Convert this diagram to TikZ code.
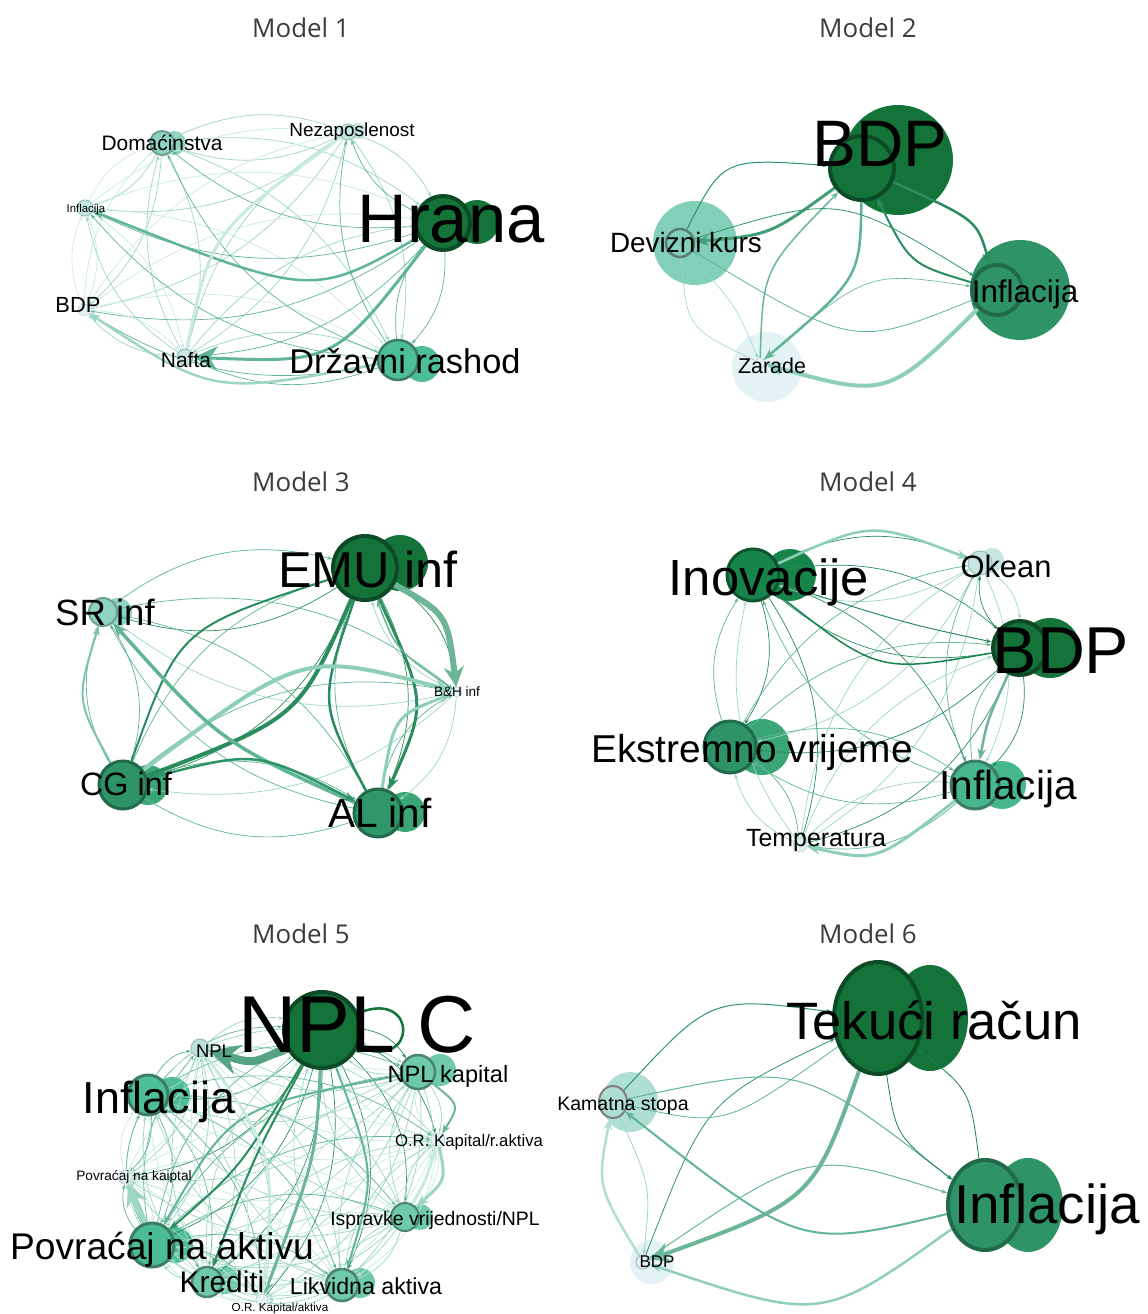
\documentclass[tikz,border=0pt]{standalone}
\usepackage{fontspec}
\newfontfamily\arl{Liberation Sans}
\newfontfamily\opn{Open Sans}
\usetikzlibrary{shapes.geometric,arrows.meta,backgrounds}
\definecolor{nDark}{HTML}{137339}
\definecolor{nRing}{HTML}{0C4B26}
\definecolor{nGreen}{HTML}{17844B}
\definecolor{nMid}{HTML}{2E9468}
\definecolor{nMidRing}{HTML}{216B4B}
\definecolor{nSea}{HTML}{3AA677}
\definecolor{nTeal}{HTML}{4DBF98}
\definecolor{nTealRing}{HTML}{3B7D66}
\definecolor{nAqua}{HTML}{6FC9AD}
\definecolor{nAquaRing}{HTML}{4A8570}
\definecolor{nMint}{HTML}{8FD3C2}
\definecolor{nMintRing}{HTML}{6E9F93}
\definecolor{nPale}{HTML}{C5E6E1}
\definecolor{nPaleRing}{HTML}{9BBFBA}
\definecolor{nIce}{HTML}{E3F3F5}
\definecolor{nIceRing}{HTML}{B9CFD2}
\definecolor{eD}{HTML}{2B8C5E}
\definecolor{eM}{HTML}{5FB594}
\definecolor{eL}{HTML}{9ED6C5}
\definecolor{eP}{HTML}{C9EAE2}
\definecolor{eThk}{HTML}{6DB597}
\definecolor{eSoft}{HTML}{8DCFB8}
\definecolor{titleGrey}{HTML}{3C3C3C}
\newcommand{\fs}[1]{\fontsize{#1}{#1}\selectfont}

\begin{document}
\begin{tikzpicture}[x=1bp,y=-1bp,>={Stealth[scale=0.8]},
  vtx/.style={circle,inner sep=0pt,line width=2bp},
  lbl/.style={inner sep=0pt,anchor=base,text=black},
  ttl/.style={inner sep=0pt,anchor=base,text=titleGrey,font={\opn\fs{26}}},
  lnk/.style={->,line width=0.7bp},
  bigtip/.style={-{Stealth[length=#1,width=#1]}}]

\useasboundingbox (0,0) rectangle (1147,1314);
\begin{scope}[on background layer]
\fill[white] (0,0) rectangle (1147,1314);
\end{scope}

\node[ttl] (t1) at (301,38) {Model 1};
\node[ttl] (t2) at (868,38) {Model 2};
\node[ttl] (t3) at (301,491) {Model 3};
\node[ttl] (t4) at (868,491) {Model 4};
\node[ttl] (t5) at (301,943) {Model 5};
\node[ttl] (t6) at (868,943) {Model 6};

\node[vtx,minimum size=24bp,fill=nMint,draw=nMintRing] (a-dom) at (162,143) {};
\node[vtx,minimum size=16bp,fill=nPale,draw=nPaleRing,line width=1bp] (a-nez) at (348,132) {};
\node[vtx,minimum size=16bp,fill=nPale,draw=nPaleRing,line width=1bp] (a-inf) at (85,208) {};
\node[vtx,minimum size=54bp,fill=nDark,draw=nRing,line width=4bp] (a-hra) at (443,223) {};
\node[vtx,minimum size=12bp,fill=nIce,draw=nIceRing,line width=0.5bp] (a-bdp) at (84,310) {};
\node[vtx,minimum size=16bp,fill=nPale,draw=nPaleRing,line width=1bp] (a-naf) at (185,357) {};
\node[vtx,minimum size=40bp,fill=nTeal,draw=nTealRing,line width=2.5bp] (a-drz) at (398,360) {};

\begin{scope}[on background layer]
\fill[nMint] (174,143) circle (12bp);
\fill[nPale] (358,131) circle (8bp);
\fill[nDark] (477,222) circle (22bp);
\fill[nTeal] (422,364) circle (18bp);
\foreach \a/\ca [count=\i] in {dom/eL,nez/eL,inf/eP,hra/eM,bdp/eP,naf/eL,drz/eM} {
  \foreach \b [count=\j] in {dom,nez,inf,hra,bdp,naf,drz} {
    \ifnum\i=\j\else\draw[lnk,\ca] (a-\a) to[bend left=22] (a-\b);\fi
  }
}
\draw[->,line width=2.5bp,eM] (a-hra) .. controls (312,298) .. (a-inf);
\draw[bigtip=24bp,line width=3bp,eM] (a-hra) .. controls (335,363) .. (a-naf);
\draw[line width=3bp,eP] (a-nez) .. controls (211,232) .. (a-naf);
\draw[->,line width=2.5bp,eL] (a-drz) .. controls (213,395) .. (a-bdp);
\end{scope}

\node[lbl,font={\arl\fs{21}}] (a-dom-t) at (162,150.5) {Domaćinstva};
\node[lbl,font={\arl\fs{19}}] (a-nez-t) at (352,136.8) {Nezaposlenost};
\node[lbl,font={\arl\fs{11.4}}] (a-inf-t) at (86,212.1) {Inflacija};
\node[lbl,font={\arl\fs{69}}] (a-hra-t) at (451,242.7) {Hrana};
\node[lbl,font={\arl\fs{22}}] (a-bdp-t) at (78,312.9) {BDP};
\node[lbl,font={\arl\fs{21}}] (a-naf-t) at (186,367.5) {Nafta};
\node[lbl,font={\arl\fs{34.5}}] (a-drz-t) at (405,373.4) {Državni rashod};

\node[vtx,minimum size=64bp,fill=nDark,draw=nRing,line width=4bp] (b-bdp) at (862,168) {};
\node[vtx,minimum size=28bp,fill=nMint!80!nTeal,draw=nMintRing!80!black,line width=2.5bp] (b-dev) at (680,243) {};
\node[vtx,minimum size=50bp,fill=nMid,draw=nMidRing,line width=4bp] (b-inf) at (997,290) {};
\node[vtx,minimum size=10bp,fill=nIce,draw=nIceRing,line width=0.5bp] (b-zar) at (760,363) {};

\begin{scope}[on background layer]
\fill[nDark] (898,160) circle (55bp);
\fill[nMint!80!nTeal] (695,243) circle (42bp);
\fill[nMid] (1020,290) circle (50bp);
\fill[nIce] (767,367) circle (35bp);
\draw[->,line width=3bp,nMid!90!white] (b-bdp) .. controls (770,235) .. (b-dev);
\draw[->,line width=1bp,nMid] (b-dev) .. controls (723,158) .. (b-bdp);
\draw[->,line width=2.5bp,eD] (b-bdp) .. controls (977,220) .. (b-inf);
\draw[->,line width=2bp,eD] (b-inf) .. controls (910,264) .. (b-bdp);
\draw[->,line width=1.5bp,eThk] (b-zar) .. controls (763,269) .. (b-bdp);
\draw[->,line width=2.5bp,eM] (b-bdp) .. controls (860,278) .. (b-zar);
\draw[->,line width=4bp,eSoft] (b-inf) .. controls (887,398) .. (b-zar);
\draw[->,line width=0.8bp,nMid] (b-dev) .. controls (840,194) .. (b-inf);
\draw[->,line width=0.8bp,eM] (b-inf) .. controls (854,348) .. (b-dev);
\draw[->,line width=0.6bp,eM] (b-zar) .. controls (867,271) .. (b-inf);
\draw[->,line width=0.6bp,eL] (b-dev) .. controls (736,306) .. (b-zar);
\draw[->,line width=0.6bp,eL] (b-zar) .. controls (687,328) .. (b-dev);
\end{scope}

\node[lbl,font={\arl\fs{66}}] (b-bdp-t) at (880,166.6) {BDP};
\node[lbl,font={\arl\fs{28}}] (b-dev-t) at (686,253) {Devizni kurs};
\node[lbl,font={\arl\fs{31.5}}] (b-inf-t) at (1025,302.3) {Inflacija};
\node[lbl,font={\arl\fs{21.5}}] (b-zar-t) at (772,373.7) {Zarade};

\node[vtx,minimum size=64bp,fill=nDark,draw=nRing,line width=4bp] (c-emu) at (365,568) {};
\node[vtx,minimum size=28bp,fill=nMint,draw=nMintRing] (c-sr) at (103,612) {};
\node[vtx,minimum size=10bp,fill=nIce,draw=nIceRing,line width=0.5bp] (c-bh) at (457,692) {};
\node[vtx,minimum size=48bp,fill=nMid,draw=nMidRing,line width=3bp] (c-cg) at (123,785) {};
\node[vtx,minimum size=48bp,fill=nMid!85!nSea,draw=nMidRing,line width=3bp] (c-al) at (378,813) {};

\begin{scope}[on background layer]
\fill[nDark] (400,563) circle (28bp);
\fill[nMint] (118,612) circle (14bp);
\fill[nSea] (148,785) circle (20bp);
\fill[nSea] (405,812) circle (20bp);
\foreach \a/\ca [count=\i] in {emu/eD,sr/eM,bh/eL,cg/eM,al/eM} {
  \foreach \b [count=\j] in {emu,sr,bh,cg,al} {
    \ifnum\i=\j\else\draw[lnk,\ca] (c-\a) to[bend left=25] (c-\b);\fi
  }
}
\draw[bigtip=20bp,line width=6bp,eThk] (c-emu) .. controls (447,614) .. (c-bh);
\draw[line width=4bp,eD] (c-cg) .. controls (299,718) .. (c-emu);
\draw[line width=2bp,eD] (c-cg) .. controls (179,628) .. (c-emu);
\draw[->,line width=3bp,eD] (c-emu) .. controls (427,703) .. (c-al);
\draw[line width=2.5bp,eD] (c-al) .. controls (319,703) .. (c-emu);
\draw[->,line width=4bp,eSoft] (c-cg) .. controls (303,651) .. (c-bh);
\draw[->,line width=3bp,eSoft] (c-al) .. controls (394,716) .. (c-bh);
\draw[->,line width=3.5bp,eM] (c-al) .. controls (220,742) .. (c-sr);
\draw[->,line width=2.5bp,nMid] (c-cg) .. controls (256,750) .. (c-al);
\draw[->,line width=2bp,eM!80!white] (c-cg) .. controls (76,700) .. (c-sr);
\draw[->,line width=1.5bp,eThk] (c-bh) .. controls (396,650) .. (c-emu);
\end{scope}

\node[lbl,font={\arl\fs{50.6}}] (c-emu-t) at (368,587.1) {EMU inf};
\node[lbl,font={\arl\fs{36.7}}] (c-sr-t) at (105,625.1) {SR inf};
\node[lbl,font={\arl\fs{13.6}}] (c-bh-t) at (457,696.9) {B\&H inf};
\node[lbl,font={\arl\fs{32.5}}] (c-cg-t) at (126,795.6) {CG inf};
\node[lbl,font={\arl\fs{40.7}}] (c-al-t) at (380,827.6) {AL inf};

\node[vtx,minimum size=52bp,fill=nGreen,draw=nRing!80!nGreen,line width=3bp] (d-ino) at (753,575) {};
\node[vtx,minimum size=24bp,fill=nPale,draw=nPaleRing,line width=1bp] (d-oke) at (980,563) {};
\node[vtx,minimum size=54bp,fill=nDark,draw=nRing,line width=4bp] (d-bdp) at (1020,648) {};
\node[vtx,minimum size=52bp,fill=nMid,draw=nMidRing,line width=3bp] (d-ekv) at (730,747) {};
\node[vtx,minimum size=48bp,fill=nTeal!70!nSea,draw=nTealRing,line width=3bp] (d-inf) at (975,785) {};
\node[vtx,minimum size=14bp,fill=nIce,draw=nIceRing,line width=0.5bp] (d-tem) at (800,845) {};

\begin{scope}[on background layer]
\fill[nGreen] (790,575) circle (26bp);
\fill[nPale] (992,560) circle (12bp);
\fill[nDark] (1050,648) circle (30bp);
\fill[nSea] (762,747) circle (28bp);
\fill[nTeal!70!nSea] (1002,785) circle (24bp);
\foreach \a/\ca [count=\i] in {ino/eD,oke/eL,bdp/eD,ekv/eM,inf/eM,tem/eL} {
  \foreach \b [count=\j] in {ino,oke,bdp,ekv,inf,tem} {
    \ifnum\i=\j\else\draw[lnk,\ca] (d-\a) to[bend left=25] (d-\b);\fi
  }
}
\draw[->,line width=2.5bp,eSoft] (d-ino) .. controls (871,521) .. (d-oke);
\draw[->,line width=1.5bp,nGreen] (d-bdp) .. controls (878,673) .. (d-ino);
\draw[->,line width=1bp,eD] (d-ino) .. controls (904,623) .. (d-bdp);
\draw[->,line width=3bp,eSoft] (d-inf) .. controls (877,862) .. (d-tem);
\draw[->,line width=2.5bp,eThk] (d-bdp) .. controls (987,721) .. (d-inf);
\end{scope}

\node[lbl,font={\arl\fs{51}}] (d-ino-t) at (769,595.3) {Inovacije};
\node[lbl,font={\arl\fs{31}}] (d-oke-t) at (1006,577.1) {Okean};
\node[lbl,font={\arl\fs{66.6}}] (d-bdp-t) at (1061,673.8) {BDP};
\node[lbl,font={\arl\fs{39}}] (d-ekv-t) at (752,762) {Ekstremno vrijeme};
\node[lbl,font={\arl\fs{40.7}}] (d-inf-t) at (1008,799.6) {Inflacija};
\node[lbl,font={\arl\fs{25}}] (d-tem-t) at (816,846) {Temperatura};

\node[vtx,minimum size=76bp,fill=nDark,draw=nRing,line width=4bp] (e-npc) at (322,1030) {};
\node[vtx,minimum size=18bp,fill=nPale!80!nMint,draw=nPaleRing,line width=1bp] (e-npl) at (200,1048) {};
\node[vtx,minimum size=40bp,fill=nTeal,draw=nTealRing,line width=3bp] (e-inf) at (148,1095) {};
\node[vtx,minimum size=34bp,fill=nAqua,draw=nAquaRing,line width=2.5bp] (e-npk) at (418,1072) {};
\node[vtx,minimum size=14bp,fill=nIce,draw=nIceRing,line width=0.8bp] (e-ork) at (438,1140) {};
\node[vtx,minimum size=14bp,fill=nIce,draw=nIceRing,line width=0.8bp] (e-pkp) at (125,1177) {};
\node[vtx,minimum size=28bp,fill=nAqua,draw=nAquaRing,line width=2bp] (e-isp) at (405,1217) {};
\node[vtx,minimum size=44bp,fill=nTeal!90!nSea,draw=nTealRing,line width=3bp] (e-pak) at (152,1245) {};
\node[vtx,minimum size=30bp,fill=nAqua,draw=nAquaRing,line width=2.5bp] (e-kre) at (207,1282) {};
\node[vtx,minimum size=12bp,fill=nIce,draw=nIceRing,line width=0.5bp] (e-ora) at (262,1300) {};
\node[vtx,minimum size=32bp,fill=nAqua,draw=nAquaRing,line width=2.5bp] (e-lik) at (342,1285) {};

\begin{scope}[on background layer]
\fill[nTeal] (172,1095) circle (18bp);
\fill[nAqua] (440,1070) circle (16bp);
\fill[nAqua] (420,1217) circle (13bp);
\fill[nTeal] (175,1245) circle (18bp);
\fill[nAqua] (225,1280) circle (14bp);
\fill[nAqua] (360,1283) circle (15bp);
\foreach \a/\ca [count=\i] in {npc/eD,npl/eL,inf/eM,npk/eL,ork/eP,pkp/eP,isp/eL,pak/eM,kre/eL,ora/eP,lik/eL} {
  \foreach \b [count=\j] in {npc,npl,inf,npk,ork,pkp,isp,pak,kre,ora,lik} {
    \ifnum\i=\j\else\draw[lnk,\ca] (e-\a) to[bend left=25] (e-\b);\fi
  }
}
\draw[line width=2.5bp,nDark] (e-npc.25) .. controls +(60,-25) and +(60,25) .. (e-npc.-25);
\draw[bigtip=30bp,line width=8bp,eM!90!black] (e-npc) .. controls (253,1064) .. (e-npl);
\draw[bigtip=22bp,line width=6bp,eL] (e-pak) .. controls (140,1211) .. (e-pkp);
\draw[->,line width=2bp,eD] (e-npc) .. controls (241,1167) .. (e-pak);
\draw[->,line width=2bp,eM] (e-npk) .. controls (232,1107) .. (e-pak);
\draw[->,line width=3bp,eThk] (e-npc) .. controls (316,1158) .. (e-ora);
\draw[->,line width=2bp,eD] (e-npc) .. controls (252,1161) .. (e-kre);
\draw[->,line width=2bp,eM] (e-npc) .. controls (376,1174) .. (e-lik);
\draw[->,line width=2.5bp,eP] (e-npl) .. controls (276,1155) .. (e-ora);
\draw[->,line width=3bp,eL] (e-ork) .. controls (446,1180) .. (e-isp);
\draw[->,line width=3bp,eP] (e-isp) .. controls (426,1180) .. (e-ork);
\draw[->,line width=2bp,eThk] (e-npk) .. controls (460,1105) .. (e-ork);
\end{scope}

\node[lbl,font={\arl\fs{81}}] (e-npc-t) at (357,1052) {NPL C};
\node[lbl,font={\arl\fs{18.5}}] (e-npl-t) at (214,1057.6) {NPL};
\node[lbl,font={\arl\fs{45}}] (e-inf-t) at (159,1113.1) {Inflacija};
\node[lbl,font={\arl\fs{23.7}}] (e-npk-t) at (448,1082.5) {NPL kapital};
\node[lbl,font={\arl\fs{16.8}}] (e-ork-t) at (469,1146) {O.R. Kapital/r.aktiva};
\node[lbl,font={\arl\fs{13.7}}] (e-pkp-t) at (134,1180.9) {Povraćaj na kaiptal};
\node[lbl,font={\arl\fs{19.5}}] (e-isp-t) at (435,1225) {Ispravke vrijednosti/NPL};
\node[lbl,font={\arl\fs{37.3}}] (e-pak-t) at (162,1259.4) {Povraćaj na aktivu};
\node[lbl,font={\arl\fs{30}}] (e-kre-t) at (222,1292.7) {Krediti};
\node[lbl,font={\arl\fs{23.3}}] (e-lik-t) at (366,1294.3) {Likvidna aktiva};
\node[lbl,font={\arl\fs{11.7}}] (e-ora-t) at (280,1311.2) {O.R. Kapital/aktiva};

\node[vtx,ellipse,minimum width=88bp,minimum height=112bp,fill=nDark,draw=nRing,line width=4bp] (f-tek) at (878,1018) {};
\node[vtx,ellipse,minimum width=28bp,minimum height=32bp,fill=nPale!60!nMint,draw=gray,line width=2bp] (f-kam) at (613,1102) {};
\node[vtx,ellipse,minimum width=74bp,minimum height=90bp,fill=nMid,draw=nMidRing,line width=4bp] (f-inf) at (985,1205) {};
\node[vtx,minimum size=14bp,fill=nIce,draw=nIceRing!70!gray,line width=1bp] (f-bdp) at (643,1262) {};

\begin{scope}[on background layer]
\fill[nDark] (930,1018) ellipse (38bp and 53bp);
\fill[nPale!60!nMint] (630,1102) ellipse (28bp and 30bp);
\fill[nMid] (1028,1205) ellipse (35bp and 47bp);
\fill[nIce] (652,1262) circle (22bp);
\draw[bigtip=20bp,line width=4bp,eThk] (f-tek) .. controls (813,1200) .. (f-bdp);
\draw[->,line width=1bp,nMid] (f-kam) .. controls (711,996) .. (f-tek);
\draw[->,line width=0.8bp,nMid] (f-bdp) .. controls (706,1100) .. (f-tek);
\draw[->,line width=0.8bp,eM] (f-tek) .. controls (725,1127) .. (f-kam);
\draw[->,line width=1bp,eM] (f-kam) .. controls (800,1062) .. (f-inf);
\draw[->,line width=2bp,eM] (f-inf) .. controls (800,1249) .. (f-kam);
\draw[->,line width=1bp,eThk] (f-bdp) .. controls (809,1149) .. (f-inf);
\draw[->,line width=2.5bp,eL!80!eM] (f-inf) .. controls (822,1322) .. (f-bdp);
\draw[->,line width=2.5bp,eL!80!white] (f-bdp) .. controls (597,1186) .. (f-kam);
\draw[->,line width=0.8bp,eL] (f-kam) .. controls (651,1186) .. (f-bdp);
\draw[->,line width=0.8bp,nGreen] (f-tek) .. controls (896,1136) .. (f-inf);
\draw[->,line width=0.8bp,nGreen] (f-inf) .. controls (970,1090) .. (f-tek);
\end{scope}

\node[lbl,font={\arl\fs{52.8}}] (f-tek-t) at (934,1039.9) {Tekući račun};
\node[lbl,font={\arl\fs{19.6}}] (f-kam-t) at (623,1110) {Kamatna stopa};
\node[lbl,font={\arl\fs{55}}] (f-inf-t) at (1047,1223.7) {Inflacija};
\node[lbl,font={\arl\fs{17}}] (f-bdp-t) at (657,1267) {BDP};

\end{tikzpicture}
\end{document}
